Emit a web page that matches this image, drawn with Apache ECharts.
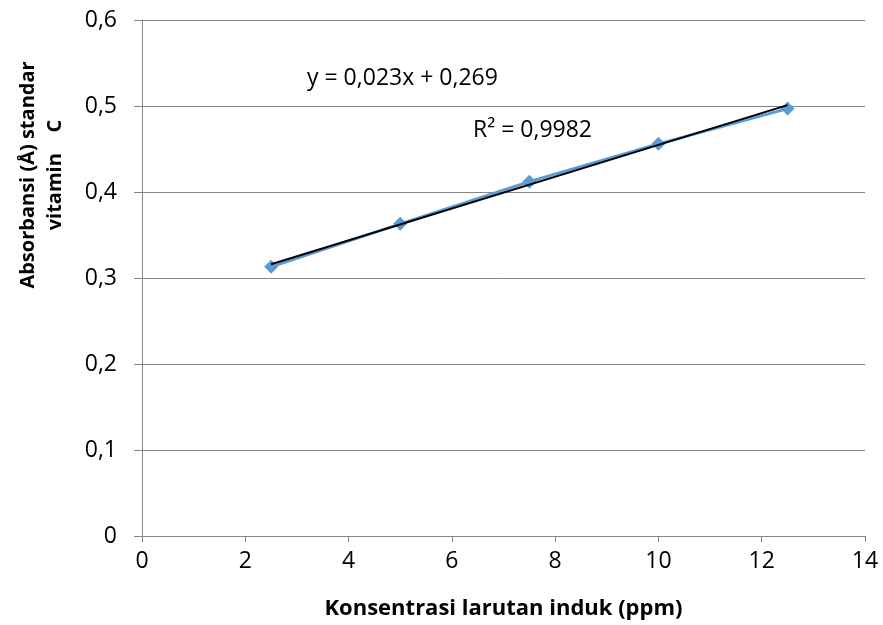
<!DOCTYPE html>
<html>
<head>
<meta charset="utf-8">
<script src="https://cdn.jsdelivr.net/npm/echarts@6/dist/echarts.min.js"></script>
<style>html,body{margin:0;padding:0;background:#fff}#c{width:883px;height:625px}</style>
</head>
<body>
<div id="c"></div>
<script>
const concentrations = [2.5, 5, 7.5, 10, 12.5];
const absorbance = [0.313, 0.363, 0.412, 0.456, 0.497];
const trendX = [2.5, 12.5];
const trendY = [0.316, 0.501];
const xTicks = [0, 2, 4, 6, 8, 10, 12, 14];
const yTicks = [0, 0.1, 0.2, 0.3, 0.4, 0.5, 0.6];
const equationText = 'y = 0,023x + 0,269';
const r2Text = 'R² = 0,9982';
const xTitle = 'Konsentrasi larutan induk (ppm)';
const yTitle = 'Absorbansi (Å) standar\nvitamin    C';

const font = '"Open Sans", sans-serif';
const chart = echarts.init(document.getElementById('c'));
const fmt = v => String(Math.round(v * 10) / 10).replace('.', ',');
chart.setOption({
  animation: false,
  grid: {left: 142, right: 18, top: 20, bottom: 89},
  xAxis: {
    type: 'value', min: xTicks[0], max: xTicks[xTicks.length - 1], interval: 2,
    name: xTitle, nameLocation: 'middle', nameGap: 62,
    nameTextStyle: {fontFamily: font, fontSize: 22, fontWeight: 'bold', color: '#000'},
    axisLine: {show: true, lineStyle: {color: '#868686', width: 1}},
    axisTick: {show: true, inside: false, length: 6, lineStyle: {color: '#868686'}},
    axisLabel: {fontFamily: font, fontSize: 23, color: '#000', margin: 14, formatter: fmt},
    splitLine: {show: false}
  },
  yAxis: {
    type: 'value', min: yTicks[0], max: yTicks[yTicks.length - 1], interval: 0.1,
    axisLine: {show: true, lineStyle: {color: '#868686', width: 1}},
    axisTick: {show: true, inside: false, length: 8, lineStyle: {color: '#868686'}},
    axisLabel: {fontFamily: font, fontSize: 23, color: '#000', margin: 25, formatter: fmt},
    splitLine: {show: true, lineStyle: {color: '#868686', width: 1}}
  },
  series: [
    {
      type: 'line',
      data: concentrations.map((x, i) => [x, absorbance[i]]),
      symbol: 'diamond', symbolSize: 14,
      lineStyle: {color: '#5B9BD5', width: 3},
      itemStyle: {color: '#5B9BD5'},
      z: 2
    },
    {
      type: 'line',
      data: trendX.map((x, i) => [x, trendY[i]]),
      symbol: 'none',
      lineStyle: {color: '#000', width: 2},
      z: 3
    }
  ],
  graphic: [
    {type: 'text', left: 307, top: 67, style: {text: equationText, font: '23px ' + font, fill: '#000'}},
    {type: 'text', left: 473, top: 119, style: {text: r2Text, font: '23px ' + font, fill: '#000'}},
    {type: 'text', x: 42, y: 175, rotation: Math.PI / 2,
     style: {text: yTitle, font: 'bold 20px ' + font, fill: '#000', align: 'center', verticalAlign: 'middle', lineHeight: 27}}
  ]
});
</script>
</body>
</html>
